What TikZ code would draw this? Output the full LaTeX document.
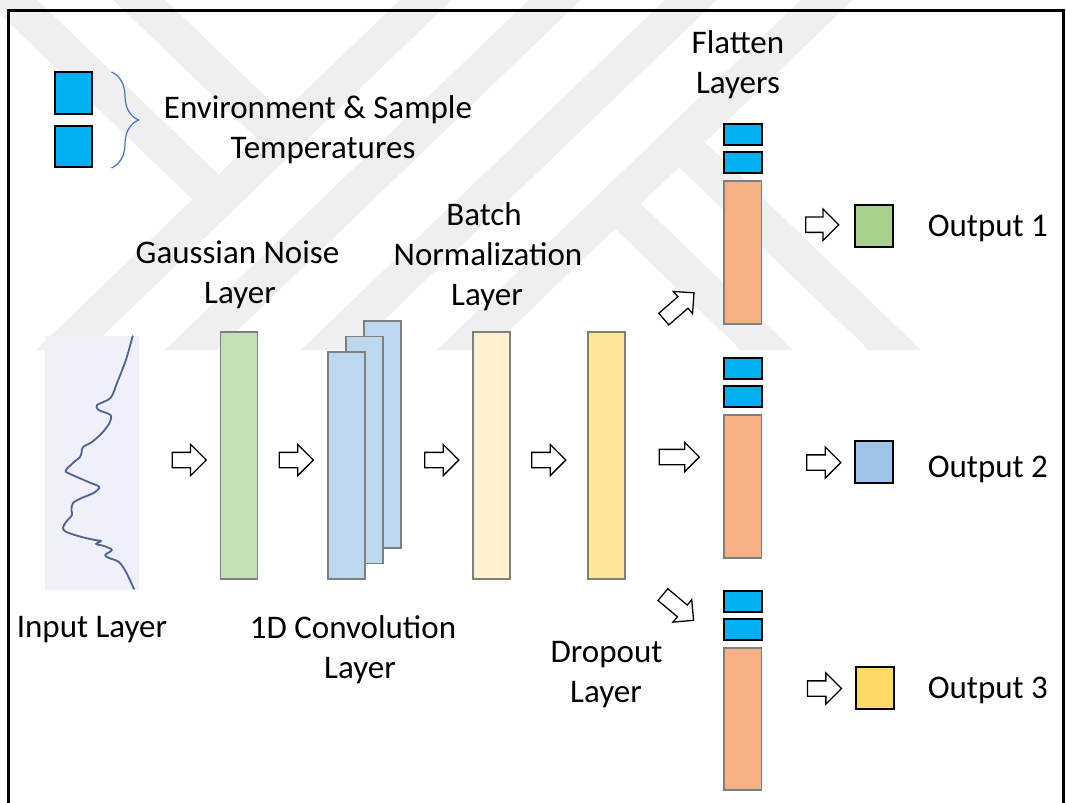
\documentclass[tikz,border=0pt]{standalone}
\usepackage{fontspec}
\setmainfont{Carlito}
\usetikzlibrary{shapes.arrows,decorations.pathreplacing}

\definecolor{wm}{RGB}{239,239,239}
\definecolor{cyanbox}{RGB}{0,176,240}
\definecolor{layeredge}{RGB}{127,127,127}
\definecolor{noisegreen}{RGB}{197,224,180}
\definecolor{convblue}{RGB}{189,215,238}
\definecolor{normyellow}{RGB}{255,242,204}
\definecolor{dropyellow}{RGB}{255,230,153}
\definecolor{flatorange}{RGB}{244,177,131}
\definecolor{outgreen}{RGB}{169,209,142}
\definecolor{outblue}{RGB}{157,195,230}
\definecolor{outyellow}{RGB}{255,217,102}
\definecolor{inputbg}{RGB}{240,240,250}
\definecolor{signal}{RGB}{79,99,142}
\definecolor{bracecol}{RGB}{68,114,196}

\begin{document}
\begin{tikzpicture}[x=1pt,y=-1pt,
  lbl/.style={font=\fontsize{33}{40}\selectfont, inner sep=0pt, anchor=base},
  layerbox/.style={draw=layeredge, line width=1.5pt, minimum width=37pt, inner sep=0pt},
  tempbox/.style={draw=black, fill=cyanbox, line width=2pt, inner sep=0pt},
  outbox/.style={draw=black, line width=2pt, minimum width=38pt, minimum height=42pt, inner sep=0pt},
  blockarrow/.style={single arrow, draw=black, fill=white, line width=1.3pt,
    inner xsep=0pt, inner ysep=7pt, single arrow head extend=8pt,
    single arrow tip angle=90, minimum height=34pt, line join=miter},
  bigarrow/.style={blockarrow, minimum height=40pt, single arrow head extend=7pt}
]
\useasboundingbox (0,0) rectangle (1066,803);
\fill[white] (0,0) rectangle (1066,803);

% faint background emblem: four long slanted bands with side branches
\fill[wm] (406,-6) -- (458,-6) -- (88,350) -- (36,350) -- cycle;
\fill[wm] (535,-6) -- (587,-6) -- (217,350) -- (165,350) -- cycle;
\fill[wm] (671,-6) -- (723,-6) -- (353,350) -- (301,350) -- cycle;
\fill[wm] (807,-6) -- (859,-6) -- (489,350) -- (437,350) -- cycle;
\fill[wm] (-21,-6) -- (31,-6) -- (231.5,187) -- (205.5,212) -- cycle;
\fill[wm] (107,-6) -- (159,-6) -- (295.5,125.5) -- (269.5,150.5) -- cycle;
\fill[wm] (666,154.8) -- (692,129.8) -- (921,350) -- (869,350) -- cycle;
\fill[wm] (602,216.3) -- (628,191.3) -- (793,350) -- (741,350) -- cycle;

% outer frame (open at the bottom)
\draw[line width=3pt, line join=miter] (8.5,810) -- (8.5,10) -- (1063,10) -- (1063,810);

% temperature inputs
\node[tempbox, minimum width=37.5pt, minimum height=42pt] (t1) at (73.7,93) {};
\node[tempbox, minimum width=37.5pt, minimum height=41pt] (t2) at (73.7,146.5) {};
\coordinate (braceTop) at (111.5,72);
\coordinate (braceBot) at (111.5,168);
\draw[bracecol, line width=1.2pt, decorate, decoration={brace, amplitude=27pt}] (braceTop) -- (braceBot);
\node[lbl] (envA) at (318,118) {Environment \& Sample};
\node[lbl] (envB) at (323,158) {Temperatures};

% input spectrum
\node[fill=inputbg, minimum width=94.5pt, minimum height=254pt, inner sep=0pt] (inp) at (92.2,463) {};
\draw[signal, line width=1.8pt, line cap=round, line join=round]
  plot[smooth, tension=0.5] coordinates {(132.7,336) (125.9,360) (117,383) (110.5,398)
  (97,405) (98.6,410) (110.5,415) (109.5,423) (102,433) (92,442) (83,447) (81.6,452)
  (80,457) (73,463) (66,470) (68,473) (88.4,482) (99.3,487) (93.5,493) (81.6,498)
  (73,503) (71.4,510) (72,515) (66,522) (63,528) (66.3,532) (81.6,537) (95,540)
  (101,541) (96,544) (104,546) (112,550) (105,555) (109,558) (119,562) (126,572) (134,589)};
\node[lbl] (inpL) at (92,637) {Input Layer};

% processing layers
\node[layerbox, fill=noisegreen, minimum height=247pt] (noise) at (239,455.5) {};
\node[layerbox, fill=convblue, minimum height=227pt] (convC) at (382.5,434.5) {};
\node[layerbox, fill=convblue, minimum height=227pt] (convB) at (364.5,450) {};
\node[layerbox, fill=convblue, minimum height=227pt] (convA) at (346.5,465.5) {};
\node[layerbox, fill=normyellow, minimum height=247pt] (norm) at (491.7,455.5) {};
\node[layerbox, fill=dropyellow, minimum height=247pt] (drop) at (606.7,455.5) {};

\node[lbl] (noiseA) at (237.5,263) {Gaussian Noise};
\node[lbl] (noiseB) at (240,303) {Layer};
\node[lbl] (normA) at (484,225) {Batch};
\node[lbl] (normB) at (488,265) {Normalization};
\node[lbl] (normC) at (487,305) {Layer};
\node[lbl] (convLA) at (353,638) {1D Convolution};
\node[lbl] (convLB) at (360,678) {Layer};
\node[lbl] (dropA) at (606.6,662) {Dropout};
\node[lbl] (dropB) at (606,702) {Layer};
\node[lbl] (flatA) at (738,53) {Flatten};
\node[lbl] (flatB) at (738,93) {Layers};

% flatten columns: two temperature cells on top of each flattened vector
\foreach \n/\ya/\yb/\yo/\h in {1/134.5/162.5/252.5/143, 2/368.5/396.5/486.5/143, 3/601.5/629.5/719/142}{
  \node[tempbox, minimum width=38pt, minimum height=21pt] (fa\n) at (742.8,\ya) {};
  \node[tempbox, minimum width=38pt, minimum height=21pt] (fb\n) at (742.8,\yb) {};
  \node[layerbox, fill=flatorange, minimum width=37.6pt, minimum height=\h pt] (fo\n) at (742.8,\yo) {};
}

% outputs
\node[outbox, fill=outgreen] (o1) at (874,225.5) {};
\node[outbox, fill=outblue] (o2) at (874,462) {};
\node[outbox, fill=outyellow] (o3) at (875,688) {};
\node[lbl, anchor=base west] (o1L) at (927.6,236) {Output 1};
\node[lbl, anchor=base west] (o2L) at (927.6,477) {Output 2};
\node[lbl, anchor=base west] (o3L) at (927.6,698) {Output 3};

% block arrows between stages
\node[blockarrow] (a1) at (185.4,460) {};
\node[blockarrow] (a2) at (292.5,460) {};
\node[blockarrow] (a3) at (438,460) {};
\node[blockarrow] (a4) at (545,460) {};
\node[bigarrow] (a5) at (675.5,457) {};
\node[bigarrow, rotate=41] (a6) at (676,308.5) {};
\node[bigarrow, rotate=-40] (a7) at (675.3,605) {};
\node[blockarrow, minimum height=33pt] (a8) at (818.4,224.7) {};
\node[blockarrow] (a9) at (820,462.5) {};
\node[blockarrow] (a10) at (820.7,688.5) {};
\end{tikzpicture}
\end{document}
